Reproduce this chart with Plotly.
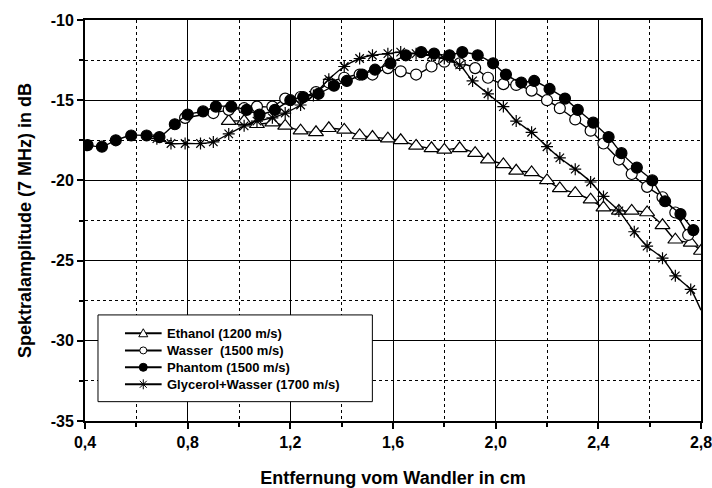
import plotly.graph_objects as go

# ---- data ----
eth_x = [0.96, 1.02, 1.07, 1.13, 1.18, 1.24, 1.30, 1.35, 1.41, 1.47, 1.52, 1.58, 1.63, 1.69, 1.75, 1.80, 1.86,
         1.92, 1.97, 2.03, 2.08, 2.14, 2.20, 2.25, 2.31, 2.37, 2.42, 2.48, 2.53, 2.59, 2.65, 2.70, 2.76, 2.80]
eth_y = [-16.3, -16.3, -16.5, -16.4, -16.6, -16.9, -17.0, -16.75, -16.85, -17.2, -17.3, -17.4, -17.5, -17.85, -18.0,
         -18.1, -18.0, -18.3, -18.7, -19.0, -19.4, -19.5, -20.0, -20.5, -20.8, -21.2, -21.7, -21.9, -21.9, -22.0,
         -22.8, -23.7, -23.9, -24.4]

was_x = [0.79, 0.90, 0.96, 1.02, 1.07, 1.13, 1.18, 1.24, 1.30, 1.35, 1.41, 1.47, 1.52, 1.58, 1.63, 1.69, 1.75,
         1.80, 1.86, 1.92, 1.97, 2.03, 2.08, 2.14, 2.20, 2.25, 2.31, 2.37, 2.42, 2.48, 2.53, 2.59, 2.65, 2.70, 2.75]
was_y = [-16.1, -15.8, -15.6, -15.5, -15.4, -15.4, -14.9, -14.8, -14.5, -13.9, -13.6, -13.4, -13.4, -13.0, -13.2,
         -13.4, -12.9, -12.6, -12.7, -13.0, -13.6, -14.0, -14.05, -14.4, -15.0, -15.5, -16.2, -16.9, -17.7, -18.7,
         -19.6, -20.4, -21.05, -22.0, -23.4]

pha_x = [0.41, 0.466, 0.52, 0.58, 0.64, 0.69, 0.75, 0.80, 0.86, 0.91, 0.97, 1.03, 1.08, 1.14, 1.20, 1.25, 1.31,
         1.37, 1.42, 1.48, 1.53, 1.59, 1.65, 1.71, 1.76, 1.82, 1.87, 1.93, 1.99, 2.04, 2.10, 2.15, 2.21, 2.27, 2.32,
         2.38, 2.44, 2.49, 2.55, 2.61, 2.66, 2.72, 2.77]
pha_y = [-17.8, -17.9, -17.5, -17.2, -17.2, -17.3, -16.5, -15.9, -15.7, -15.4, -15.4, -15.6, -15.9, -15.6, -15.0,
         -14.8, -14.6, -14.1, -13.8, -13.4, -13.1, -12.7, -12.2, -12.0, -12.1, -12.2, -12.0, -12.2, -12.7, -13.4,
         -13.9, -13.8, -14.3, -14.9, -15.6, -16.4, -17.3, -18.3, -19.2, -20.0, -21.3, -22.1, -23.1]

gly_x = [0.68, 0.735, 0.79, 0.85, 0.90, 0.96, 1.02, 1.07, 1.13, 1.18, 1.24, 1.29, 1.35, 1.41, 1.47, 1.52, 1.58,
         1.63, 1.69, 1.75, 1.80, 1.86, 1.91, 1.97, 2.03, 2.08, 2.14, 2.20, 2.25, 2.31, 2.37, 2.42, 2.48, 2.54, 2.59,
         2.65, 2.70, 2.76]
gly_y = [-17.4, -17.7, -17.7, -17.7, -17.6, -17.1, -16.6, -16.3, -16.1, -15.8, -15.3, -14.7, -13.7, -12.9, -12.4,
         -12.2, -12.1, -12.0, -12.1, -12.2, -12.4, -12.8, -13.8, -14.6, -15.4, -16.3, -17.0, -17.9, -18.6, -19.3,
         -20.1, -21.0, -21.9, -23.2, -24.1, -24.85, -25.95, -26.8]
gly_line_x = gly_x + [2.80]
gly_line_y = gly_y + [-28.1]

names = ["Ethanol (1200 m/s)", "Wasser  (1500 m/s)", "Phantom (1500 m/s)", "Glycerol+Wasser (1700 m/s)"]

x_tickvals = [0.4, 0.8, 1.2, 1.6, 2.0, 2.4, 2.8]
x_ticktext = ["0,4", "0,8", "1,2", "1,6", "2,0", "2,4", "2,8"]
y_tickvals = [-35, -30, -25, -20, -15, -10]
y_ticktext = ["-35", "-30", "-25", "-20", "-15", "-10"]

FONT = "Liberation Sans, Arial, sans-serif"

fig = go.Figure()

series = [
    (eth_x, eth_y, eth_x, eth_y, names[0], "triangle-up", "white", 13),
    (was_x, was_y, was_x, was_y, names[1], "circle", "white", 11),
    (pha_x, pha_y, pha_x, pha_y, names[2], "circle", "black", 11),
    (gly_x, gly_y, gly_line_x, gly_line_y, names[3], "asterisk-open", "black", 10),
]

for x, y, lx, ly, name, sym, fill, size in series:
    fig.add_trace(go.Scatter(x=lx, y=ly, mode="lines",
                             line=dict(color="black", width=1.4, shape="spline", smoothing=0.6),
                             showlegend=False, hoverinfo="skip"))
    fig.add_trace(go.Scatter(x=x, y=y, mode="markers", name=name,
                             marker=dict(symbol=sym, size=size, color=fill,
                                         line=dict(color="black", width=1.2)),
                             showlegend=False))

# ---- hand-drawn legend (paper coordinates of the plot area) ----
leg_x0, leg_x1, leg_y0, leg_y1 = 0.0211, 0.4665, 0.0482, 0.2645
row_y = [0.2188, 0.1760, 0.1339, 0.0915]
seg_x0, seg_x1, mk_x, txt_x = 0.0649, 0.1244, 0.0946, 0.1300

shapes = [dict(type="rect", xref="paper", yref="paper", x0=leg_x0, x1=leg_x1, y0=leg_y0, y1=leg_y1,
               fillcolor="white", line=dict(color="black", width=1), layer="above")]
annotations = []
legend_glyphs = [
    dict(type="path", path="M -4.5,-3.5 L 4.5,-3.5 L 0,4.5 Z", fillcolor="white"),
    dict(type="circle", x0=-3.5, x1=3.5, y0=-3.5, y1=3.5, fillcolor="white"),
    dict(type="circle", x0=-4, x1=4, y0=-4, y1=4, fillcolor="black"),
    dict(type="path", path="M 0,-5 L 0,5 M -3.5,-3.5 L 3.5,3.5 M -3.5,3.5 L 3.5,-3.5", fillcolor="rgba(0,0,0,0)"),
]
for name, ry, glyph in zip(names, row_y, legend_glyphs):
    shapes.append(dict(type="line", xref="paper", yref="paper", x0=seg_x0, x1=seg_x1, y0=ry, y1=ry,
                       line=dict(color="black", width=2), layer="above"))
    g = dict(glyph)
    g.update(xref="paper", yref="paper", xsizemode="pixel", ysizemode="pixel",
             xanchor=mk_x, yanchor=ry, line=dict(color="black", width=1), layer="above")
    shapes.append(g)
    annotations.append(dict(xref="paper", yref="paper", x=txt_x, y=ry, text=name, showarrow=False,
                            xanchor="left", yanchor="middle",
                            font=dict(family=FONT, size=13, color="black", weight="bold")))

axis_common = dict(
    showline=True, linecolor="black", linewidth=2, mirror=True,
    ticks="outside", ticklen=6, tickwidth=1.5, tickcolor="black",
    showgrid=True, gridcolor="black", gridwidth=1,
    tickfont=dict(family=FONT, size=16, color="black", weight="bold"),
    zeroline=False, automargin=False, ticklabeloverflow="allow",
)

xaxis = dict(range=[0.4, 2.8], tickmode="array", tickvals=x_tickvals, ticktext=x_ticktext,
             minor=dict(dtick=0.2, tick0=0.4, ticks="outside", ticklen=4, tickcolor="black",
                        showgrid=True, griddash="dot", gridcolor="black", gridwidth=1),
             title=dict(text="Entfernung vom Wandler in cm", standoff=22,
                        font=dict(family=FONT, size=18, color="black", weight="bold")),
             **axis_common)
yaxis = dict(range=[-35, -10], tickmode="array", tickvals=y_tickvals, ticktext=y_ticktext,
             minor=dict(dtick=2.5, tick0=-35, ticks="outside", ticklen=4, tickcolor="black",
                        showgrid=True, griddash="dot", gridcolor="black", gridwidth=1),
             title=dict(text="Spektralamplitude (7 MHz) in dB", standoff=14,
                        font=dict(family=FONT, size=18, color="black", weight="bold")),
             **axis_common)

fig.update_layout(
    width=712, height=488,
    margin=dict(l=85, r=11, t=20, b=67),
    paper_bgcolor="white", plot_bgcolor="white",
    font=dict(family=FONT, color="black"),
    showlegend=False,
    xaxis=xaxis,
    yaxis=yaxis,
    shapes=shapes,
    annotations=annotations,
)

fig.write_html("out.html")
